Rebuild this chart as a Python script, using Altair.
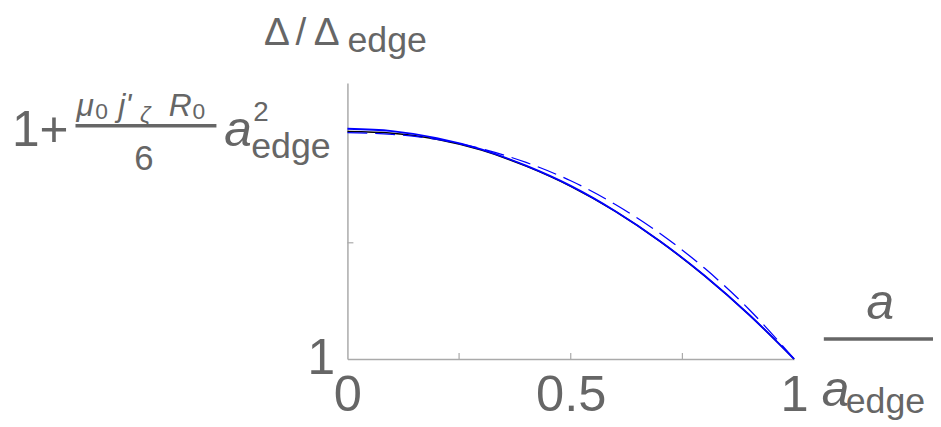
import altair as alt
import pandas as pd

# data (normalized: 0 -> "1", 1 -> "1 + mu0 j' R0 a^2/6")
x_vals = [0.0, 0.1, 0.2, 0.3, 0.4, 0.5, 0.6, 0.7, 0.8, 0.9, 1.0]
solid_blue = [0.991, 0.981, 0.951, 0.902, 0.832, 0.745, 0.636, 0.507, 0.358, 0.189, 0.0]
solid_black = [0.979, 0.972, 0.946, 0.899, 0.830, 0.743, 0.635, 0.506, 0.357, 0.189, 0.0]
dashed_blue = [0.974, 0.967, 0.945, 0.905, 0.846, 0.767, 0.665, 0.540, 0.390, 0.212, 0.0]
x_ticks = [0.25, 0.5, 0.75]
y_ticks = [0.5]

FONT = "Liberation Sans"
GRAY = "#666666"
AXIS = "#aaaaaa"
W, H = 450, 278

df = pd.DataFrame({
    "x": x_vals * 3,
    "y": solid_black + solid_blue + dashed_blue,
    "s": ["black"] * 11 + ["blue"] * 11 + ["dash"] * 11,
})

xs = alt.Scale(domain=[0, 1], nice=False)
ys = alt.Scale(domain=[0, 1.188], nice=False)

base = alt.Chart(df)

xaxis = alt.Axis(values=[0, 0.5, 1], format="", labelExpr="datum.value == 0 ? '0' : datum.value == 1 ? '1' : '0.5'",
                 ticks=False, domainColor=AXIS, domainWidth=1.5, labelFont=FONT, labelFontSize=51,
                 labelColor=GRAY, labelPadding=12, labelFlush=False, labelOverlap=False, grid=False, title=None)
yaxis = alt.Axis(values=[0], labelExpr="'1'", ticks=False, domainColor=AXIS, domainWidth=1.5,
                 labelFont=FONT, labelFontSize=50, labelColor=GRAY, labelPadding=13, labelBaseline="middle",
                 grid=False, title=None)

black = base.transform_filter("datum.s == 'black'").mark_line(
    color="black", strokeWidth=1.5, interpolate="monotone").encode(
    x=alt.X("x:Q", scale=xs, axis=xaxis), y=alt.Y("y:Q", scale=ys, axis=yaxis))
blue = base.transform_filter("datum.s == 'blue'").mark_line(
    color="#0000ff", strokeWidth=1.8, interpolate="monotone").encode(
    x=alt.X("x:Q", scale=xs), y=alt.Y("y:Q", scale=ys))
dash = base.transform_filter("datum.s == 'dash'").mark_line(
    color="#0000ff", strokeWidth=1.3, strokeDash=[20, 8], interpolate="monotone").encode(
    x=alt.X("x:Q", scale=xs), y=alt.Y("y:Q", scale=ys))

xt = alt.Chart(pd.DataFrame({"t": x_ticks})).mark_rule(color=AXIS, strokeWidth=1.2).encode(
    x=alt.X("t:Q", scale=xs), y=alt.value(H), y2=alt.value(H - 6))
yt = alt.Chart(pd.DataFrame({"t": y_ticks})).mark_rule(color=AXIS, strokeWidth=1.2).encode(
    y=alt.Y("t:Q", scale=ys), x=alt.value(0), x2=alt.value(6))

one = alt.Chart(alt.Data(values=[{}]))


def txt(s, px, py, size, italic=False, align="left"):
    kw = dict(text=s, font=FONT, fontSize=size, color=GRAY, align=align, baseline="alphabetic")
    if italic:
        kw["fontStyle"] = "italic"
    return one.mark_text(**kw).encode(x=alt.value(px - 350), y=alt.value(py - 82))


def bar(x1, x2, py):
    return one.mark_rule(color=GRAY, strokeWidth=3.5).encode(
        x=alt.value(x1 - 350), x2=alt.value(x2 - 350), y=alt.value(py - 82))


labels = [
    # title
    txt("Δ", 279, 44, 39, align="center"),
    txt("/", 303, 44, 39, align="center"),
    txt("Δ", 329, 44, 39, align="center"),
    txt("edge", 350, 51, 36),
    # top y label
    txt("1+", 12, 145, 50),
    txt("μ", 77, 115, 32, italic=True),
    txt("0", 96, 118, 23),
    txt("j'", 119, 115, 32, italic=True),
    txt("ζ", 141, 121, 23, italic=True),
    txt("R", 170, 115, 32, italic=True),
    txt("0", 194, 118, 23),
    bar(76, 218, 125),
    txt("6", 145, 170, 35, align="center"),
    txt("a", 226, 145, 50, italic=True),
    txt("2", 255, 120, 28),
    txt("edge", 253, 158, 36),
    # x label
    txt("a", 873, 320, 50, italic=True),
    bar(830, 945, 340),
    txt("a", 828, 407, 50, italic=True),
    txt("edge", 852, 414, 36),
]

chart = alt.layer(black, blue, dash, xt, yt, *labels).properties(
    width=W, height=H,
    background="white",
    autosize=alt.AutoSizeParams(type="none"),
    padding={"left": 342, "top": 74, "right": 140, "bottom": 65},
).configure_view(stroke="transparent", strokeWidth=0)

chart.save("out.html", embed_options={"renderer": "svg", "actions": False})
